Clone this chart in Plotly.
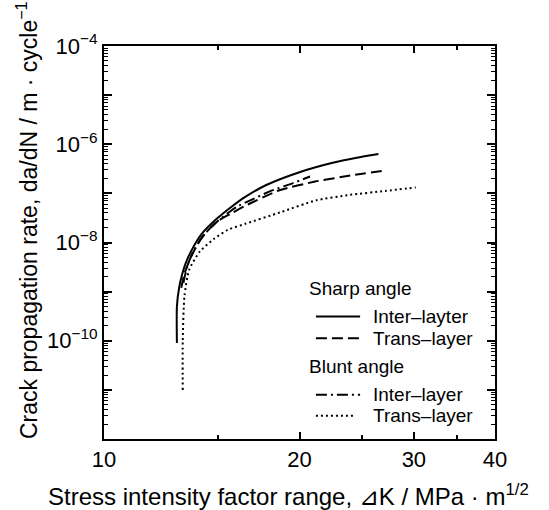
import plotly.graph_objects as go

# ---- data (ΔK in MPa·m^1/2, da/dN in m/cycle) ----
sharp_inter_dk = [12.95, 12.95, 13.06, 13.2, 13.36, 13.69, 14.13, 14.94, 15.7, 16.5, 17.78, 20.0, 22.5, 24.5, 26.46]
sharp_inter_rate = [9e-11, 5e-10, 1.26e-9, 2.3e-9, 3.8e-9, 7.6e-9, 1.48e-8, 3.1e-8, 5.3e-8, 8.5e-8, 1.48e-7, 2.7e-7, 4.2e-7, 5.3e-7, 6.3e-7]

sharp_trans_dk = [13.15, 13.3, 13.6, 14.1, 14.9, 15.7, 16.5, 18.67, 21.14, 23.94, 27.0]
sharp_trans_rate = [1.2e-9, 2.3e-9, 5e-9, 1.2e-8, 2.6e-8, 3.9e-8, 5.6e-8, 1.17e-7, 1.74e-7, 2.3e-7, 2.9e-7]

blunt_inter_dk = [13.25, 13.45, 13.8, 14.3, 15.0, 16.0, 16.8, 18.0, 19.5, 20.76]
blunt_inter_rate = [1.5e-9, 3.5e-9, 7.5e-9, 1.5e-8, 2.8e-8, 5.3e-8, 7.2e-8, 1.1e-7, 1.6e-7, 2.2e-7]

blunt_trans_dk = [13.22, 13.22, 13.3, 13.52, 14.04, 14.75, 15.5, 16.5, 18.67, 21.2, 23.9, 27.1, 30.2]
blunt_trans_rate = [1e-11, 1e-10, 8e-10, 2.75e-9, 6.5e-9, 1.17e-8, 1.8e-8, 2.4e-8, 4.1e-8, 7.2e-8, 9.3e-8, 1.12e-7, 1.32e-7]

x_tick_vals = [10, 20, 30, 40]
x_tick_text = ["10", "20", "30", "40"]
x_minor_vals = [15, 25, 35]
y_exponents = [-12, -11, -10, -9, -8, -7, -6, -5, -4]
y_labelled = [-10, -8, -6, -4]

groups = ["Sharp angle", "Blunt angle"]
names = ["Inter\u2013layter", "Trans\u2013layer", "Inter\u2013layer", "Trans\u2013layer"]
dashes = ["solid", "11px,5px", "11px,4px,2px,4px", "2px,3px"]

FONT = "Arial, Liberation Sans, sans-serif"

fig = go.Figure()
all_x = [sharp_inter_dk, sharp_trans_dk, blunt_inter_dk, blunt_trans_dk]
all_y = [sharp_inter_rate, sharp_trans_rate, blunt_inter_rate, blunt_trans_rate]
for i in range(4):
    fig.add_trace(go.Scatter(
        x=all_x[i], y=all_y[i], mode="lines", name=groups[i // 2] + " " + names[i],
        line=dict(color="black", width=2, dash=dashes[i], shape="spline", smoothing=0.6),
        showlegend=False,
    ))

y_tick_vals = [10.0 ** e for e in y_exponents]
y_tick_text = [("10<sup>\u2212%d</sup>" % (-e)) if e in y_labelled else "" for e in y_exponents]
y_minor_vals = [k * 10.0 ** e for e in y_exponents[:-1] for k in range(2, 10)]

fig.update_layout(
    width=549, height=510,
    margin=dict(l=104, r=54, t=46, b=71),
    paper_bgcolor="white", plot_bgcolor="white",
    font=dict(family=FONT, size=20, color="black"),
    showlegend=False,
    xaxis=dict(type="log", range=[1, 1.60206], showgrid=False, zeroline=False,
               showline=True, linecolor="black", linewidth=2, mirror="allticks",
               ticks="inside", ticklen=7, tickwidth=1.5, tickcolor="black",
               tickmode="array", tickvals=x_tick_vals, ticktext=x_tick_text,
               tickfont=dict(size=22),
               minor=dict(tickmode="array", tickvals=x_minor_vals, ticks="inside",
                          ticklen=4, tickwidth=1.5, tickcolor="black", showgrid=False)),
    yaxis=dict(type="log", range=[-12, -4], showgrid=False, zeroline=False,
               showline=True, linecolor="black", linewidth=2, mirror="allticks",
               ticks="inside", ticklen=8, tickwidth=1.5, tickcolor="black",
               tickmode="array", tickvals=y_tick_vals, ticktext=y_tick_text,
               tickfont=dict(size=22),
               minor=dict(tickmode="array", tickvals=y_minor_vals, ticks="inside",
                          ticklen=4, tickwidth=1, tickcolor="black", showgrid=False)),
)

# ---- legend, drawn as text + sample lines inside the plot ----
leg_font = dict(size=19, family=FONT, color="black")
title_x = 0.518
line_x0, line_x1, text_x = 0.542, 0.655, 0.683
title_y = [0.3836, 0.1845]
item_y = [0.3115, 0.2566, 0.1125, 0.0592]
for g in range(2):
    fig.add_annotation(text=groups[g], xref="paper", yref="paper", x=title_x, y=title_y[g],
                       xanchor="left", yanchor="middle", showarrow=False, font=leg_font)
for i in range(4):
    x1 = line_x1 if i < 3 else 0.644
    fig.add_shape(type="line", xref="paper", yref="paper", x0=line_x0, x1=x1,
                  y0=item_y[i], y1=item_y[i], line=dict(color="black", width=2, dash=dashes[i]))
    fig.add_annotation(text=names[i], xref="paper", yref="paper", x=text_x, y=item_y[i],
                       xanchor="left", yanchor="middle", showarrow=False, font=leg_font)

fig.add_annotation(text="Stress intensity factor range, \u22bfK / MPa \u00b7 m<sup>1/2</sup>",
                   xref="paper", yref="paper", x=0.473, y=-0.1415,
                   xanchor="center", yanchor="middle", showarrow=False,
                   font=dict(size=24, family=FONT, color="black"))
fig.add_annotation(text="Crack propagation rate, da/dN / m \u00b7 cycle<sup>\u22121</sup>",
                   xref="paper", yref="paper", x=-0.197, y=0.557, textangle=-90,
                   xanchor="center", yanchor="middle", showarrow=False,
                   font=dict(size=23, family=FONT, color="black"))

fig.write_html("out.html", config={"displayModeBar": False},
               post_script="document.body.style.margin='0px';")
